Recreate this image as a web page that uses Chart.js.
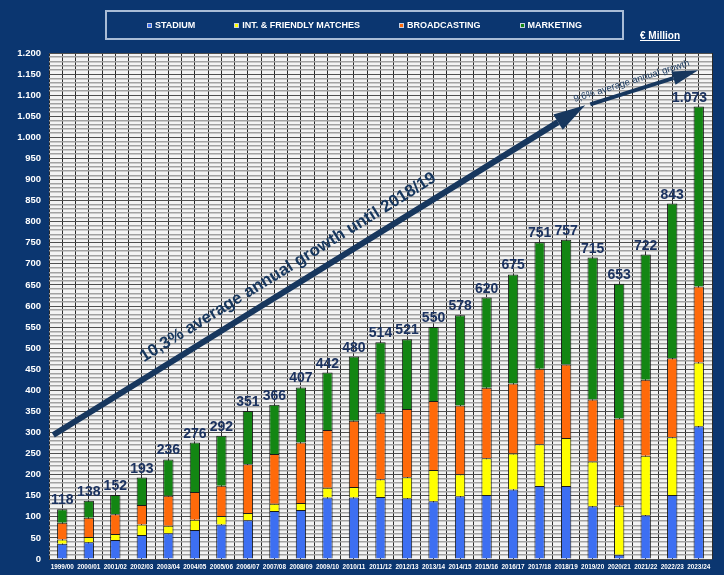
<!DOCTYPE html>
<html>
<head>
<meta charset="utf-8">
<script src="https://cdn.jsdelivr.net/npm/chart.js@4.4.1/dist/chart.umd.min.js"></script>
<style>
  html, body { margin: 0; padding: 0; background: #0b3670; }
  #wrap { position: relative; width: 724px; height: 575px; }
  #legend {
    position: absolute; left: 105px; top: 10px; width: 515px; height: 26px;
    border: 2px solid #a9bcd6; display: flex; justify-content: center; align-items: center; gap: 39px;
    font: bold 9px "Liberation Sans", Arial, sans-serif; color: #fff;
  }
  #legend .box { display: inline-block; width: 3px; height: 3px; border: 1px solid #c8d0e0; margin-right: 3px; vertical-align: middle; }
  #unit {
    position: absolute; left: 640px; top: 30px;
    font: bold 10px "Liberation Sans", Arial, sans-serif; color: #fff; text-decoration: underline;
  }
</style>
</head>
<body>
<div id="wrap">
  <canvas id="myChart" width="724" height="575"></canvas>
  <div id="legend"></div>
  <div id="unit">€ Million</div>
</div>
<script>
// seasons
const labels = ['1999/00', '2000/01', '2001/02', '2002/03', '2003/04', '2004/05', '2005/06', '2006/07',
  '2007/08', '2008/09', '2009/10', '2010/11', '2011/12', '2012/13', '2013/14', '2014/15', '2015/16',
  '2016/17', '2017/18', '2018/19', '2019/20', '2020/21', '2021/22', '2022/23', '2023/24'];

// € million per segment
const stadium = [36, 40, 45, 57, 61, 69, 82, 92, 114, 116, 146, 146, 147, 144, 137, 149, 152, 165, 173, 173, 125, 10, 104, 152, 315];
const friendly = [10, 12, 14, 25, 18, 24, 20, 17, 17, 17, 23, 25, 42, 50, 74, 52, 87, 85, 99, 114, 106, 116, 141, 137, 151];
const broadcasting = [40, 46, 47, 46, 71, 66, 72, 116, 118, 143, 137, 157, 158, 162, 164, 163, 167, 166, 179, 174, 147, 207, 180, 187, 180];
const marketing = [32, 40, 46, 65, 86, 117, 118, 126, 117, 131, 136, 152, 167, 165, 175, 214, 214, 259, 300, 296, 337, 320, 297, 367, 427];

// totals printed above the bars
const totals = [118, 138, 152, 193, 236, 276, 292, 351, 366, 407, 442, 480, 514, 521, 550, 578, 620, 675, 751, 757, 715, 653, 722, 843, 1073];

const seriesNames = ['STADIUM', 'INT. & FRIENDLY MATCHES', 'BROADCASTING', 'MARKETING'];
const seriesColors = ['#3d6ff2', '#ffff00', '#ff6a0a', '#138613'];

// growth arrows, in (season index, € million)
const growthArrows = [
  { text: '10,3% average annual growth until 2018/19', from: [-0.34, 294], to: [19.72, 1076], width: 6, head: [32, 9], font: 'bold 17px "Liberation Sans", Arial, sans-serif', at: 0.46, offset: 14 },
  { text: '9,6% average annual growth', from: [19.91, 1078], to: [23.98, 1159], width: 4, head: [26, 7], font: '9.5px "Liberation Sans", Arial, sans-serif', at: 0.41, offset: 7 }
];

const navy = '#17375e';

function fmt(v) {
  return String(v).replace(/\B(?=(\d{3})+(?!\d))/g, '.');
}

// legend i HTML
const legendEl = document.getElementById('legend');
seriesNames.forEach((name, i) => {
  const item = document.createElement('div');
  const box = document.createElement('span');
  box.className = 'box';
  box.style.backgroundColor = seriesColors[i];
  item.appendChild(box);
  item.appendChild(document.createTextNode(name));
  legendEl.appendChild(item);
});

const plotBackground = {
  id: 'plotBackground',
  beforeDraw(chart) {
    const { ctx, chartArea: a } = chart;
    ctx.save();
    ctx.fillStyle = '#f4f4f4';
    ctx.fillRect(a.left, a.top, a.width, a.height);
    ctx.restore();
  }
};

function drawArrow(ctx, x1, y1, x2, y2, w, hl, hw) {
  const ang = Math.atan2(y2 - y1, x2 - x1);
  const bx = x2 - hl * Math.cos(ang), by = y2 - hl * Math.sin(ang);
  ctx.strokeStyle = navy;
  ctx.lineWidth = w;
  ctx.beginPath();
  ctx.moveTo(x1, y1);
  ctx.lineTo(bx, by);
  ctx.stroke();
  ctx.fillStyle = navy;
  ctx.beginPath();
  ctx.moveTo(x2, y2);
  ctx.lineTo(bx + hw * Math.sin(ang), by - hw * Math.cos(ang));
  ctx.lineTo(bx - hw * Math.sin(ang), by + hw * Math.cos(ang));
  ctx.closePath();
  ctx.fill();
  return ang;
}

const annotations = {
  id: 'annotations',
  afterDatasetsDraw(chart) {
    const { ctx, chartArea: a } = chart;
    const xs = chart.scales.xg, xc = chart.scales.x, ys = chart.scales.y;
    ctx.save();

    // totals over the bars
    ctx.font = 'bold 14px "Liberation Sans", Arial, sans-serif';
    ctx.fillStyle = '#1b3260';
    ctx.textAlign = 'center';
    ctx.textBaseline = 'alphabetic';
    totals.forEach((t, i) => {
      const txt = fmt(t);
      const w = ctx.measureText(txt).width;
      let x = xc.getPixelForValue(i);
      if (x + w / 2 > a.right - 5) x = a.right - 5 - w / 2;
      ctx.fillText(txt, x, ys.getPixelForValue(t) - 5);
    });

    // growth arrows
    growthArrows.forEach(g => {
      const x1 = xs.getPixelForValue(g.from[0]), y1 = ys.getPixelForValue(g.from[1]);
      const x2 = xs.getPixelForValue(g.to[0]), y2 = ys.getPixelForValue(g.to[1]);
      const ang = drawArrow(ctx, x1, y1, x2, y2, g.width, g.head[0], g.head[1]);
      const px = x1 + (x2 - x1) * g.at + g.offset * Math.sin(ang);
      const py = y1 + (y2 - y1) * g.at - g.offset * Math.cos(ang);
      ctx.save();
      ctx.translate(px, py);
      ctx.rotate(ang);
      ctx.font = g.font;
      ctx.fillStyle = navy;
      ctx.textAlign = 'center';
      ctx.fillText(g.text, 0, 0);
      ctx.restore();
    });
    ctx.restore();
  }
};

const datasets = [stadium, friendly, broadcasting, marketing].map((d, i) => ({
  label: seriesNames[i],
  data: d,
  backgroundColor: seriesColors[i],
  borderColor: '#1a1a1a',
  borderWidth: 1,
  barPercentage: 0.39,
  categoryPercentage: 1,
  xAxisID: 'x',
  stack: 'rev'
}));

new Chart(document.getElementById('myChart').getContext('2d'), {
  type: 'bar',
  data: { labels: labels, datasets: datasets },
  options: {
    responsive: false,
    animation: false,
    devicePixelRatio: 1,
    events: [],
    layout: { padding: { top: 53, right: 12, left: 0, bottom: 0 } },
    plugins: { legend: { display: false }, tooltip: { enabled: false } },
    scales: {
      x: {
        type: 'category',
        stacked: true,
        grid: { display: false, drawTicks: false },
        border: { display: false },
        ticks: {
          color: '#fff', font: { family: '"Liberation Sans", Arial, sans-serif', size: 6.4, weight: 'bold' },
          maxRotation: 0, autoSkip: false, padding: 4
        },
        afterFit(s) { s.height = 16; }
      },
      // only for the vertical grid lines (category edges and centres)
      xg: {
        type: 'linear',
        position: 'bottom',
        offset: false,
        min: -0.5,
        max: labels.length - 0.5,
        ticks: { display: false, stepSize: 0.5, maxTicksLimit: 200 },
        grid: { offset: false, color: '#2a2a2a', lineWidth: 1, drawTicks: false },
        border: { display: false },
        afterFit(s) { s.height = 0; }
      },
      y: {
        stacked: true,
        min: 0,
        max: 1200,
        ticks: {
          stepSize: 10, maxTicksLimit: 200, autoSkip: false, padding: 8,
          color: '#fff', font: { family: '"Liberation Sans", Arial, sans-serif', size: 9.5, weight: 'bold' },
          callback: v => (v % 50 === 0 ? fmt(v) : '')
        },
        grid: {
          drawTicks: false,
          color: c => (c.tick.value % 50 === 0 ? '#505050' : '#a2a2a2'),
          lineWidth: c => (c.tick.value % 50 === 0 ? 1 : 1.5)
        },
        border: { display: false },
        afterFit(s) { s.width = 49; }
      }
    }
  },
  plugins: [plotBackground, annotations]
});
</script>
</body>
</html>
